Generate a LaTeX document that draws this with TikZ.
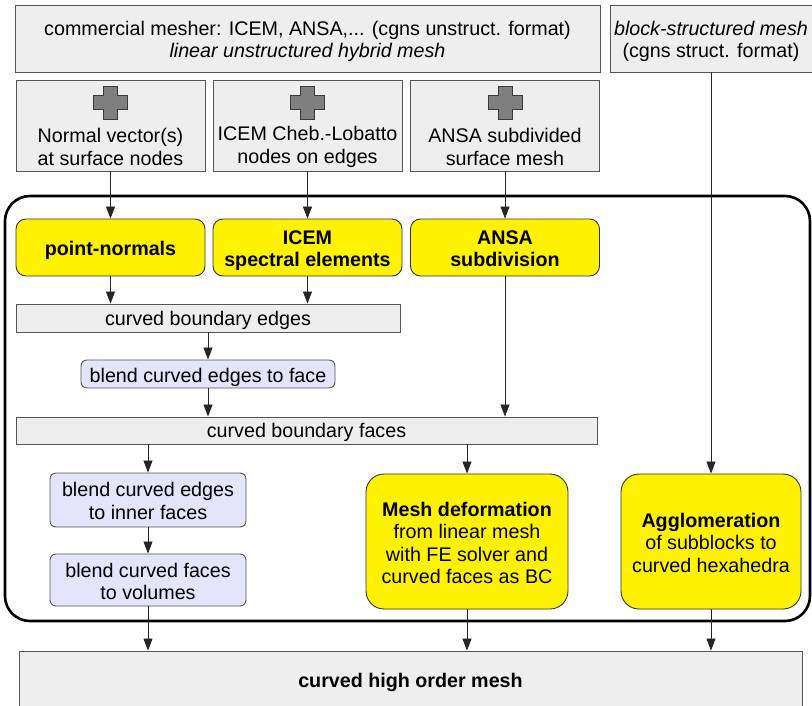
\documentclass[tikz,border=0pt]{standalone}
\usepackage{fontspec}
\setmainfont{Liberation Sans}
\usetikzlibrary{arrows.meta}
\definecolor{boxgray}{HTML}{EEEEEE}
\definecolor{edgegray}{HTML}{555555}
\definecolor{lav}{HTML}{E4E4FA}
\definecolor{plusfill}{HTML}{7F7F7F}
\definecolor{plusedge}{HTML}{3A3A3A}
\newcommand{\dn}[2][3.5pt]{\raisebox{-#1}[\height][\depth]{\begin{tabular}{@{}c@{}}#2\end{tabular}}}
\tikzset{
  base/.style={inner sep=0pt, align=center, font=\fontsize{19.7}{22.3}\selectfont},
  graybox/.style={base, draw=edgegray, fill=boxgray, line width=0.9pt},
  yellowbox/.style={base, draw=black!80, fill=yellow, line width=0.9pt, rounded corners=10pt, font=\fontsize{19.7}{22.3}\selectfont\bfseries},
  bigyellow/.style={base, draw=black!80, fill=yellow, line width=0.9pt, rounded corners=18pt},
  lavbox/.style={base, draw=edgegray, fill=lav, line width=0.9pt, rounded corners=6pt},
  txt/.style={base},
  arr/.style={draw=black!85, line width=0.8pt, -{Triangle[length=12pt,width=9pt]}},
  plusicon/.pic={\draw[fill=plusfill, draw=plusedge, line width=0.8pt]
     (-7,-16.5) -- (7,-16.5) -- (7,-7) -- (17,-7) -- (17,7) -- (7,7) -- (7,16.5)
     -- (-7,16.5) -- (-7,7) -- (-17,7) -- (-17,-7) -- (-7,-7) -- cycle;}
}
\begin{document}
\begin{tikzpicture}[x=1pt,y=-1pt]
\useasboundingbox (0,0) rectangle (812,705);
\clip (0,0) rectangle (812,705);
\fill[white] (0,0) rectangle (812,705);

% top boxes
\node[graybox, minimum width=585pt, minimum height=67pt] (cm) at (307.5,38.5)
  {\dn[3.5pt]{commercial mesher: ICEM, ANSA,... (cgns unstruct. format)\\ \itshape linear unstructured hybrid mesh}};
\node[graybox, minimum width=202pt, minimum height=67pt] (blk) at (711,38.5)
  {\dn[3.5pt]{\itshape block-structured mesh\\ (cgns struct. format)}};

% second row
\node[graybox, minimum width=189pt, minimum height=91pt] (ba) at (110.5,125.5) {};
\node[graybox, minimum width=189pt, minimum height=91pt] (bb) at (307.5,125.5) {};
\node[graybox, minimum width=189pt, minimum height=91pt] (bc) at (505,125.5) {};
\pic at (110.5,102.5) {plusicon};
\pic at (307.5,102.5) {plusicon};
\pic at (505,102.5) {plusicon};
\node[txt] (ta) at (110.5,147) {Normal vector(s)\\at surface nodes};
\node[txt] (tb) at (307.5,147) {ICEM Cheb.-Lobatto\\nodes on edges};
\node[txt] (tc) at (505,147) {ANSA subdivided\\surface mesh};

% frame
\node[draw=black, line width=2.6pt, rounded corners=25pt, minimum width=805pt, minimum height=425pt, inner sep=0pt] (frame) at (407.5,408.5) {};

% yellow row
\node[yellowbox, minimum width=189pt, minimum height=57pt] (pn) at (110.5,247.5) {\dn[4pt]{point-normals}};
\node[yellowbox, minimum width=189pt, minimum height=57pt] (se) at (307.5,247.5) {\dn[3.5pt]{ICEM\\spectral elements}};
\node[yellowbox, minimum width=189pt, minimum height=57pt] (sd) at (505,247.5) {\dn[3.5pt]{ANSA\\subdivision}};

% middle
\node[graybox, minimum width=384pt, minimum height=28pt] (cbe) at (208,318) {\dn[3pt]{curved boundary edges}};
\node[lavbox, minimum width=254pt, minimum height=28pt] (bl) at (208,374) {\dn[4pt]{blend curved edges to face}};
\node[graybox, minimum width=581pt, minimum height=27pt] (cbf) at (306.5,430.5) {\dn[3pt]{curved boundary faces}};

% lower
\node[lavbox, minimum width=196pt, minimum height=54pt] (inn) at (148,500) {\dn[3.5pt]{blend curved edges\\to inner faces}};
\node[lavbox, minimum width=196pt, minimum height=52pt] (vol) at (148,580) {\dn[4pt]{blend curved faces\\to volumes}};
\node[bigyellow, minimum width=202pt, minimum height=135pt] (md) at (467,541.5)
  {\dn[4pt]{\textbf{Mesh deformation}\\from linear mesh\\with FE solver and\\curved faces as BC}};
\node[bigyellow, minimum width=180pt, minimum height=135pt] (ag) at (711,541.5)
  {\dn[4pt]{\textbf{Agglomeration}\\of subblocks to\\curved hexahedra}};

% final
\node[graybox, minimum width=783pt, minimum height=62pt, font=\fontsize{19.7}{22.3}\selectfont\bfseries] (fin) at (410.5,682)
  {\raisebox{4pt}{curved high order mesh}};

% connectors
\draw[arr] (ba.south) -- (pn.north);
\draw[arr] (bb.south) -- (se.north);
\draw[arr] (bc.south) -- (sd.north);
\draw[arr] (pn.south) -- (pn.south |- cbe.north);
\draw[arr] (se.south) -- (se.south |- cbe.north);
\draw[arr] (cbe.south) -- (bl.north);
\draw[arr] (bl.south) -- (bl.south |- cbf.north);
\draw[arr] (sd.south) -- (sd.south |- cbf.north);
\draw[arr] (inn.north |- cbf.south) -- (inn.north);
\draw[arr] (md.north |- cbf.south) -- (md.north);
\draw[arr] (inn.south) -- (vol.north);
\draw[arr] (blk.south) -- (ag.north);
\draw[arr] (vol.south) -- (vol.south |- fin.north);
\draw[arr] (md.south) -- (md.south |- fin.north);
\draw[arr] (ag.south) -- (ag.south |- fin.north);
\end{tikzpicture}
\end{document}
